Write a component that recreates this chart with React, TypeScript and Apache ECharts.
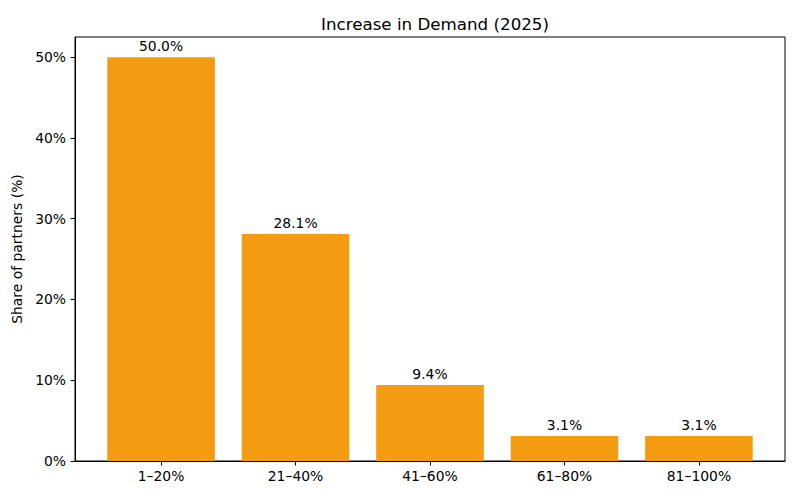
import React, { useEffect, useRef } from "react";
import * as echarts from "echarts";

const categories = ["1–20%", "21–40%", "41–60%", "61–80%", "81–100%"];
const values = [50.0, 28.1, 9.4, 3.1, 3.1];
const yTicks = [0, 10, 20, 30, 40, 50];

export default function App() {
  const ref = useRef<HTMLDivElement>(null);
  useEffect(() => {
    if (!ref.current) return;
    const chart = echarts.init(ref.current, undefined, { renderer: "svg" });
    const font = "DejaVu Sans";
    const positions = categories.map((_, i) => i);
    chart.setOption({
      animation: false,
      textStyle: { fontFamily: font },
      title: {
        text: "Increase in Demand (2025)",
        left: 430,
        top: 10,
        textAlign: "center",
        textStyle: { fontFamily: font, fontSize: 16.7, fontWeight: "normal", color: "#000" },
      },
      grid: {
        left: 75,
        right: 15,
        top: 37,
        bottom: 39,
        show: true,
        borderColor: "#000",
        borderWidth: 1,
        backgroundColor: "transparent",
      },
      xAxis: {
        type: "value",
        min: -0.64,
        max: 4.64,
        splitLine: { show: false },
        axisLine: { show: true, onZero: false, lineStyle: { color: "#000", width: 1 } },
        axisTick: { show: true, customValues: positions, length: 4.5, lineStyle: { color: "#000" } },
        axisLabel: {
          customValues: positions,
          formatter: (v: number) => categories[Math.round(v)] ?? "",
          color: "#000",
          fontFamily: font,
          fontSize: 13.9,
          margin: 8,
        },
      },
      yAxis: {
        type: "value",
        min: 0,
        max: 52.5,
        interval: 10,
        name: "Share of partners (%)",
        nameLocation: "middle",
        nameGap: 46,
        nameTextStyle: { fontFamily: font, fontSize: 13.9, color: "#000" },
        splitLine: { show: false },
        axisLine: { show: true, onZero: false, lineStyle: { color: "#000", width: 1 } },
        axisTick: { show: true, customValues: yTicks, length: 4.5, lineStyle: { color: "#000" } },
        axisLabel: {
          customValues: yTicks,
          formatter: (v: number) => `${v}%`,
          color: "#000",
          fontFamily: font,
          fontSize: 13.9,
          margin: 9,
        },
      },
      series: [
        {
          type: "bar",
          data: values.map((v, i) => [i, v]),
          barWidth: 107.6,
          itemStyle: { color: "#f39c12" },
          label: {
            show: true,
            position: "top",
            distance: 4,
            formatter: (p: any) => `${p.value[1].toFixed(1)}%`,
            color: "#000",
            fontFamily: font,
            fontSize: 13.9,
          },
        },
      ],
    });
    return () => chart.dispose();
  }, []);
  return <div ref={ref} style={{ width: 800, height: 500, margin: -8 }} />;
}
